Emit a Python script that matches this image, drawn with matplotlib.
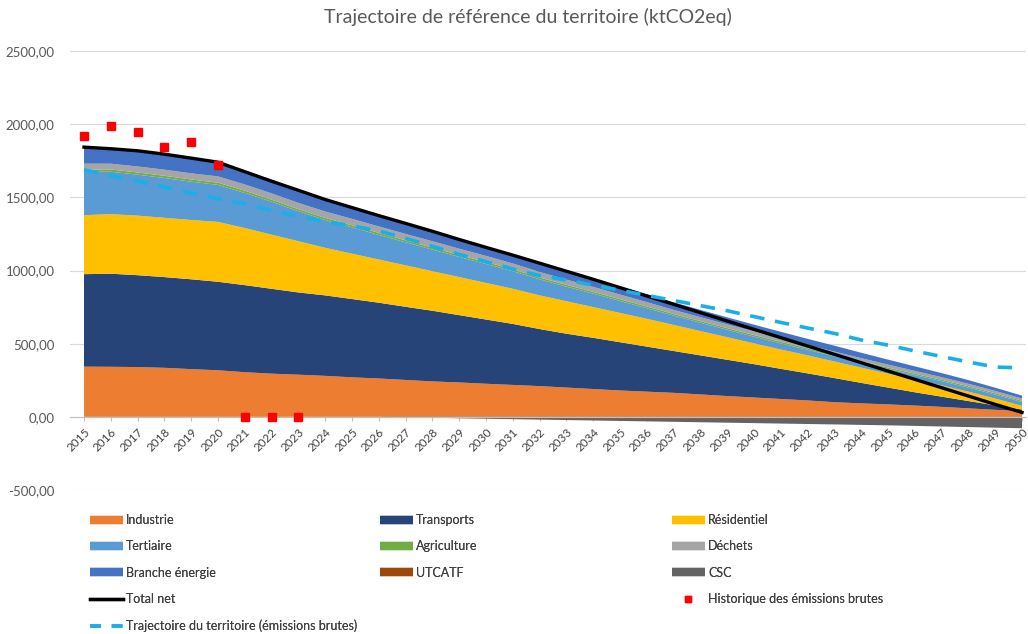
import matplotlib
matplotlib.use("Agg")
import matplotlib.pyplot as plt
from matplotlib.lines import Line2D
from matplotlib.ticker import FuncFormatter, MultipleLocator

plt.rcParams['font.family'] = ['Lato', 'DejaVu Sans']

years = list(range(2015, 2051))

industrie = [343, 342, 340, 335, 326, 318, 305, 295, 288, 280, 270, 262, 252, 242, 235, 226, 218, 210,
             200, 190, 180, 172, 164, 153, 142, 132, 122, 112, 100, 92, 85, 77, 68, 58, 48, 38]
transports = [632, 636, 628, 620, 614, 605, 595, 580, 562, 550, 535, 518, 500, 483, 460, 439, 417, 390,
              368, 350, 330, 308, 286, 267, 248, 228, 206, 185, 165, 140, 115, 91, 70, 50, 30, 12]
residentiel = [403, 407, 407, 405, 405, 409, 390, 370, 350, 325, 310, 295, 283, 270, 260, 250, 240, 230,
               222, 210, 200, 190, 178, 166, 154, 142, 132, 123, 113, 104, 95, 87, 77, 64, 47, 25]
tertiaire = [297, 290, 280, 272, 262, 253, 240, 225, 205, 190, 180, 168, 158, 148, 138, 130, 120, 110,
             100, 92, 82, 72, 64, 57, 51, 46, 42, 38, 36, 34, 32, 30, 29, 28, 27, 26]
agriculture = [15, 15, 15, 15, 15, 15, 15, 14, 14, 14, 14, 14, 13, 13, 13, 13, 13, 12,
               12, 12, 12, 12, 11, 11, 11, 11, 11, 10, 10, 10, 10, 10, 9, 9, 9, 9]
dechets = [40, 40, 41, 42, 42, 43, 43, 43, 43, 44, 44, 44, 44, 44, 43, 42, 40, 38,
           36, 34, 32, 30, 28, 27, 26, 25, 24, 23, 22, 21, 20, 19, 18, 17, 16, 15]
branche_energie = [111, 110, 108, 105, 102, 100, 97, 94, 92, 88, 82, 76, 70, 66, 63, 60, 59, 58,
                   57, 56, 55, 54, 52, 50, 48, 46, 44, 42, 40, 37, 34, 31, 28, 25, 22, 20]
utcatf = [0] * 36
csc = [0, 0, 0, 0, 0, 0, 0, 0, 0, 0, 0, 0, -3, -6, -10, -13, -16, -19,
       -22, -25, -28, -31, -34, -37, -40, -43, -46, -49, -52, -55, -58, -62, -66, -70, -74, -78]
total_net = [1843, 1832, 1818, 1795, 1768, 1740, 1675, 1610, 1548, 1485, 1430, 1375, 1322, 1268, 1212, 1158,
             1105, 1050, 995, 940, 883, 826, 769, 712, 655, 598, 541, 484, 427, 370, 313, 256, 199, 142, 85, 30]
trajectoire = [1688, 1650, 1610, 1570, 1530, 1490, 1455, 1410, 1370, 1335, 1305, 1270, 1220, 1165, 1110, 1060,
               1010, 965, 935, 900, 865, 830, 795, 760, 725, 685, 645, 607, 570, 525, 490, 450, 412, 375, 340, 335]
hist_years = [2015, 2016, 2017, 2018, 2019, 2020, 2021, 2022, 2023]
hist_values = [1918, 1985, 1948, 1846, 1878, 1723, 0, 0, 0]

labels = ["Industrie", "Transports", "Résidentiel", "Tertiaire", "Agriculture", "Déchets",
          "Branche énergie", "UTCATF", "CSC"]
colors = {"Industrie": "#ED7D31", "Transports": "#264478", "Résidentiel": "#FFC000",
          "Tertiaire": "#5B9BD5", "Agriculture": "#70AD47", "Déchets": "#A5A5A5",
          "Branche énergie": "#4472C4", "UTCATF": "#9E480E", "CSC": "#636363"}
title = "Trajectoire de référence du territoire (ktCO2eq)"

fig = plt.figure(figsize=(10.28, 6.34), dpi=100)
ax = fig.add_axes([70 / 1028, 1 - 490 / 634, 956 / 1028, 439 / 634])

pos_series = [industrie, transports, residentiel, tertiaire, agriculture, dechets, branche_energie, utcatf]
ax.stackplot(years, *pos_series, colors=[colors[l] for l in labels[:8]], linewidth=0, zorder=2)
ax.stackplot(years, csc, colors=[colors["CSC"]], linewidth=0, zorder=2)
ax.plot(years, total_net, color="black", lw=2.4, zorder=4)
ax.plot(years, trajectoire, color="#1AAFE6", lw=2.6, dashes=(4, 3), zorder=5)
ax.plot(hist_years, hist_values, ls="none", marker="s", ms=5.5, color="#FF0000", zorder=6)

ax.set_xlim(2015 - 14 / 26.8, 2050 + 4 / 26.8)
ax.set_ylim(-500, 2500)
ax.yaxis.set_major_locator(MultipleLocator(500))
ax.yaxis.set_major_formatter(FuncFormatter(lambda v, p: f"{v:.2f}".replace(".", ",")))
ax.grid(axis="y", color="#D9D9D9", lw=0.8, zorder=0)
ax.set_axisbelow(True)
for s in ["top", "right", "left"]:
    ax.spines[s].set_visible(False)
ax.spines["bottom"].set_position(("data", 0))
ax.spines["bottom"].set_color("#BFBFBF")
ax.spines["bottom"].set_zorder(3)
ax.set_xticks(years)
ax.set_xticklabels([str(y) for y in years], rotation=45, ha="right", rotation_mode="anchor",
                   fontsize=8.5, color="#404040")
ax.tick_params(axis="x", length=3, color="#BFBFBF", pad=4)
ax.tick_params(axis="y", length=0, pad=11, labelsize=9.5, labelcolor="#595959")

fig.text(528 / 1028, 1 - 17 / 634, title, ha="center", va="center", fontsize=14, color="#595959")

def area_handle(c):
    return Line2D([], [], color=c, lw=6, solid_capstyle="butt")

col1 = [(area_handle(colors["Industrie"]), "Industrie"),
        (area_handle(colors["Tertiaire"]), "Tertiaire"),
        (area_handle(colors["Branche énergie"]), "Branche énergie"),
        (Line2D([], [], color="black", lw=2.4), "Total net"),
        (Line2D([], [], color="#1AAFE6", lw=2.6, dashes=(3, 3)), "Trajectoire du territoire (émissions brutes)")]
col2 = [(area_handle(colors["Transports"]), "Transports"),
        (area_handle(colors["Agriculture"]), "Agriculture"),
        (area_handle(colors["UTCATF"]), "UTCATF")]
col3 = [(area_handle(colors["Résidentiel"]), "Résidentiel"),
        (area_handle(colors["Déchets"]), "Déchets"),
        (area_handle(colors["CSC"]), "CSC"),
        (Line2D([], [], ls="none", marker="s", ms=5, color="#FF0000"), "Historique des émissions brutes")]

for col, x0 in [(col1, 90), (col2, 380), (col3, 672)]:
    leg = fig.legend([h for h, _ in col], [t for _, t in col], loc="upper left",
                     bbox_to_anchor=(x0 / 1028, 1 - 514 / 634), frameon=False, fontsize=9,
                     handlelength=2.6, handletextpad=0.3, labelspacing=1.15, borderaxespad=0,
                     borderpad=0)
    for t in leg.get_texts():
        t.set_color("#404040")
    fig.add_artist(leg)

fig.savefig("out.png", dpi=100)
